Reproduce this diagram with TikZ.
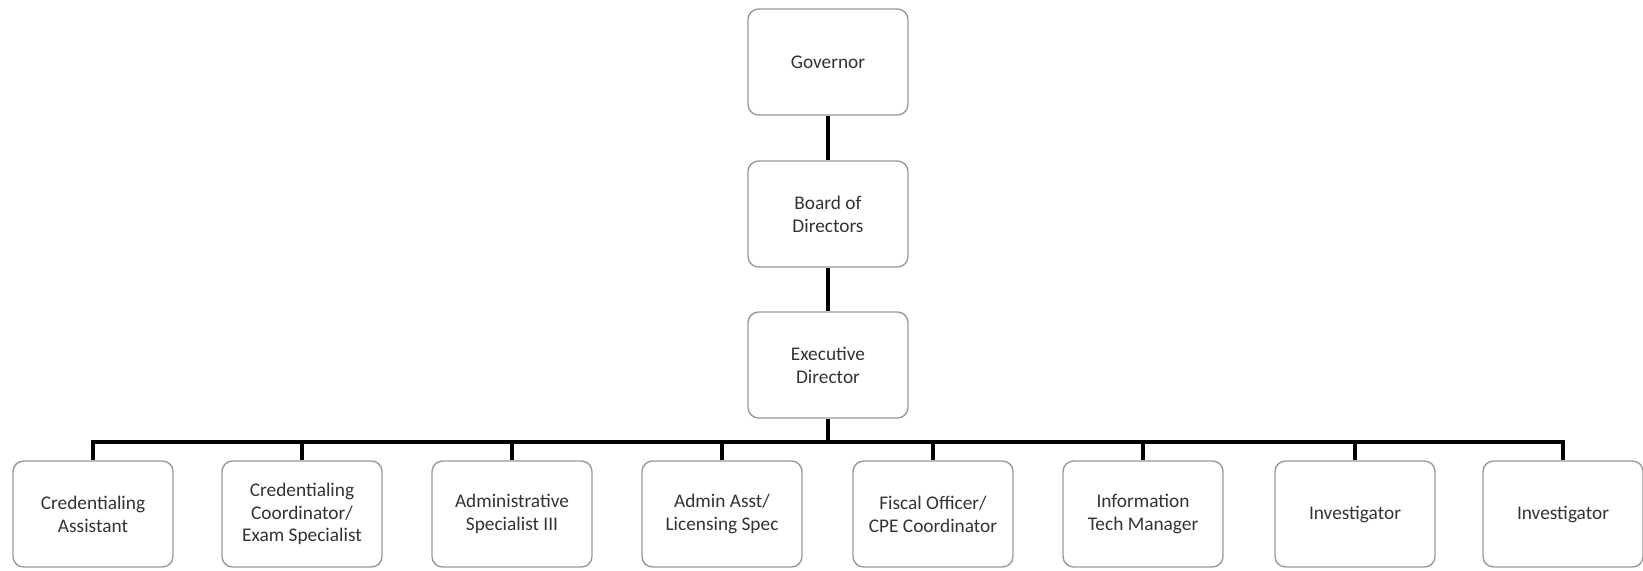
\documentclass[tikz,border=0pt]{standalone}
\usepackage{fontspec}
\setmainfont{Carlito}
\usepackage{tikz}

\tikzset{
  post/.style={draw=black!40,line width=0.8pt,rounded corners=6pt,fill=white,
    minimum width=3.2cm,minimum height=2.12cm,align=center,text=black!80,
    font=\fontsize{11}{13}\selectfont},
  link/.style={line width=2.8pt,black}
}

\begin{document}
\begin{tikzpicture}[x=0.02cm,y=-0.02cm]

    \useasboundingbox (0,0) rectangle (1643,571);

    % Chain at the top
    \node[post] (gov) at (828,62) {Governor};
    \node[post] (board) at (828,214) {Board of\\Directors};
    \node[post] (exec) at (828,365) {Executive\\Director};

    % Staff row, left to right
    \foreach \i/\x/\txt in {1/93/{Credentialing\\Assistant},
        2/302/{Credentialing\\Coordinator/\\Exam Specialist},
        3/512/{Administrative\\Specialist III},
        4/722/{Admin Asst/\\Licensing Spec},
        5/933/{Fiscal Officer/\\CPE Coordinator},
        6/1143/{Information\\Tech Manager},
        7/1355/{Investigator},
        8/1563/{Investigator}} {%
      \node[post] (s\i) at (\x,514) {\txt};
    }

    \coordinate (bus) at (828,442);

    % Connectors
    \draw[link] (gov) -- (board);
    \draw[link] (board) -- (exec);
    \draw[link] (exec) -- (bus);
    \draw[link] (s1.north) |- (bus) -| (s8.north);
    \foreach \i in {2,...,7} {
      \draw[link] (s\i.north) -- (s\i.north |- bus);
    }

  \end{tikzpicture}
\end{document}
